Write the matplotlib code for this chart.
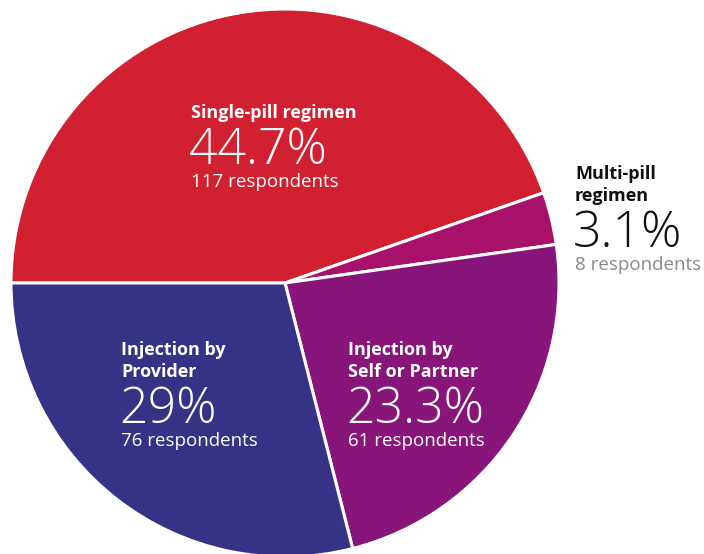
import matplotlib.pyplot as plt

labels = ["Single-pill regimen", "Multi-pill\nregimen", "Injection by\nSelf or Partner", "Injection by\nProvider"]
shares = [44.7, 3.1, 23.3, 29.0]
pct_text = ["44.7%", "3.1%", "23.3%", "29%"]
respondents = [117, 8, 61, 76]
colors = ["#D12030", "#A8116A", "#88157A", "#363285"]

plt.rcParams['font.family'] = ['Open Sans', 'DejaVu Sans']

W, H = 704, 554
cx, cy, r = 285, 283, 274

fig = plt.figure(figsize=(W / 100, H / 100), dpi=100)
ax = fig.add_axes([0, 0, 1, 1])
ax.pie(shares, colors=colors, startangle=180, counterclock=False, radius=1,
       wedgeprops=dict(edgecolor="white", linewidth=2.2))
ax.set_xlim(-cx / r, (W - cx) / r)
ax.set_ylim(-(H - cy) / r, cy / r)
ax.set_aspect('auto')
ax.axis('off')


def px(x, y):
    # pixel position (from top-left) to data coords
    return (x - cx) / r, (cy - y) / r


# label blocks: left x, baseline of first title line, text colour, colour of counts
blocks = [
    (191, 118, "white", "white"),
    (575, 179, "#111111", "#8a8a8a"),
    (348, 355, "white", "white"),
    (121, 355, "white", "white"),
]

for i, (x0, y0, c, c2) in enumerate(blocks):
    lines = labels[i].split("\n")
    y = y0
    for ln in lines:
        ax.text(*px(x0, y), ln, color=c, fontsize=13, fontweight='bold',
                ha='left', va='baseline')
        y += 22
    y += 24
    ax.text(*px(x0 - 2, y), pct_text[i], color=c, fontsize=36, fontweight='light',
            ha='left', va='baseline')
    y += 23
    ax.text(*px(x0, y), f"{respondents[i]} respondents", color=c2, fontsize=13.5,
            fontweight='normal', ha='left', va='baseline')

fig.savefig("out.png", dpi=100)
